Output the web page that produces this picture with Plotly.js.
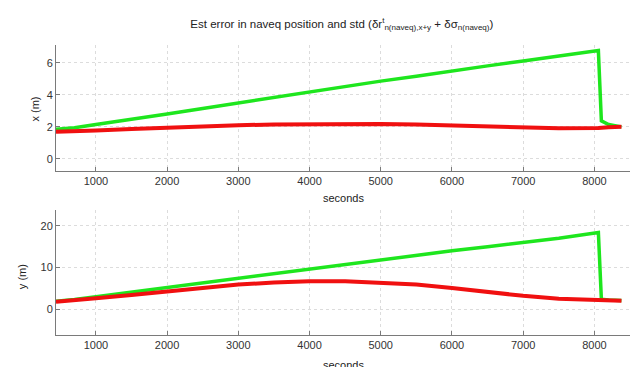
<!DOCTYPE html>
<html><head><meta charset="utf-8">
<script src="https://cdn.plot.ly/plotly-3.0.1.min.js"></script>
<style>body{margin:0;background:#fff}#c{width:639px;height:367px}</style>
</head><body><div id="c"></div>
<script>
// time (s)
const tX = [440, 700, 1000, 1500, 2000, 2500, 3000, 3500, 4000, 4500, 5000, 5500, 6000, 6500, 7000, 7500, 8056, 8098, 8200, 8380];
// top panel: x error (m)
const xGreen = [1.85, 1.95, 2.15, 2.45, 2.8, 3.15, 3.5, 3.85, 4.2, 4.5, 4.85, 5.15, 5.5, 5.8, 6.1, 6.4, 6.75, 2.37, 2.15, 2.0];
const xRed   = [1.7, 1.72, 1.78, 1.87, 1.96, 2.04, 2.1, 2.15, 2.18, 2.19, 2.18, 2.14, 2.08, 2.01, 1.95, 1.92, 1.93, 1.95, 1.97, 2.0];
// bottom panel: y error (m)
const yGreen = [1.9, 2.3, 3.0, 4.1, 5.2, 6.4, 7.6, 8.7, 9.8, 10.9, 12.0, 13.0, 14.0, 15.0, 16.0, 17.0, 18.4, 2.4, 2.2, 2.1];
const yRed   = [1.8, 2.1, 2.6, 3.4, 4.3, 5.2, 5.9, 6.4, 6.7, 6.7, 6.4, 5.9, 5.1, 4.1, 3.2, 2.5, 2.1, 2.05, 2.05, 2.0];
const xTicks = [1000, 2000, 3000, 4000, 5000, 6000, 7000, 8000];

const G = '#1ee61e', R = '#f01010';
const FONT = 'Liberation Sans, Arial';
const traces = [
  {x: tX, y: xGreen, xaxis: 'x', yaxis: 'y', mode: 'lines', line: {color: G, width: 3.5}},
  {x: tX, y: xRed, xaxis: 'x', yaxis: 'y', mode: 'lines', line: {color: R, width: 4}},
  {x: tX, y: yGreen, xaxis: 'x2', yaxis: 'y2', mode: 'lines', line: {color: G, width: 3.5}},
  {x: tX, y: yRed, xaxis: 'x2', yaxis: 'y2', mode: 'lines', line: {color: R, width: 4}}
];
const ax = {
  showline: true, linecolor: '#7a7a7a', linewidth: 1, mirror: false,
  ticks: 'inside', ticklen: 4, tickcolor: '#7a7a7a',
  showgrid: true, gridcolor: '#dcdcdc', griddash: 'dot', gridwidth: 1,
  zeroline: false, tickfont: {family: FONT, size: 11, color: '#333'}
};
const xa = Object.assign({}, ax, {range: [440, 8500], tickvals: xTicks, ticktext: xTicks.map(String)});
const lab = (text, x, y, rot) => ({text, xref: 'paper', yref: 'paper', x, y, textangle: rot, showarrow: false,
  xanchor: 'center', yanchor: 'middle', font: {family: FONT, size: 11, color: '#222'}});
const layout = {
  width: 639, height: 367, showlegend: false,
  paper_bgcolor: '#fff', plot_bgcolor: '#fff',
  margin: {l: 56, r: 9, t: 45, b: 32},
  title: {text: 'Est error in naveq position and std (δr<sup>t</sup><sub>n(naveq),x+y</sub> + δσ<sub>n(naveq)</sub>)',
    font: {family: FONT, size: 11.5, color: '#222'}, x: 0.535, xanchor: 'center', y: 0.935, yanchor: 'middle'},
  xaxis: Object.assign({}, xa, {anchor: 'y', domain: [0, 1]}),
  yaxis: Object.assign({}, ax, {range: [-0.75, 7.1], tickvals: [0, 2, 4, 6], domain: [0.5655, 1], anchor: 'x'}),
  xaxis2: Object.assign({}, xa, {anchor: 'y2', domain: [0, 1]}),
  yaxis2: Object.assign({}, ax, {range: [-6.2, 23.8], tickvals: [0, 10, 20], domain: [0, 0.431], anchor: 'x2'}),
  annotations: [
    lab('x (m)', -0.037, 0.78, -90),
    lab('y (m)', -0.059, 0.2, -90),
    lab('seconds', 0.5, 0.472, 0),
    lab('seconds', 0.5, -0.105, 0)
  ]
};
Plotly.newPlot('c', traces, layout, {displayModeBar: false, staticPlot: true});
</script></body></html>
